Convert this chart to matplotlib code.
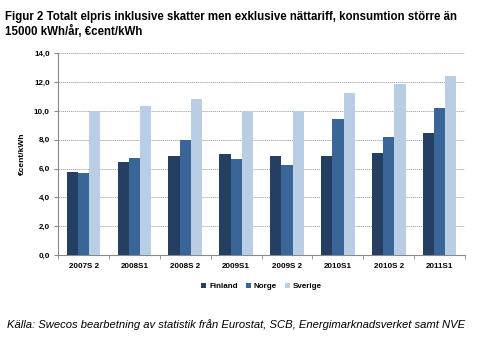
import matplotlib.pyplot as plt
import numpy as np

# data
perioder = ['2007S2', '2008S1', '2008S2', '2009S1', '2009S2', '2010S1', '2010S2', '2011S1']
finland = [5.75, 6.45, 6.85, 7.0, 6.85, 6.9, 7.1, 8.5]
norge = [5.72, 6.75, 8.0, 6.65, 6.22, 9.45, 8.2, 10.2]
sverige = [10.0, 10.37, 10.8, 10.02, 10.0, 11.25, 11.85, 12.45]

plt.rcParams['font.family'] = ['Liberation Sans', 'DejaVu Sans']

fig = plt.figure(figsize=(4.8, 3.37), dpi=100)
ax = fig.add_axes([0.121, 0.243, 0.848, 0.599])

x = np.arange(len(perioder))
w = 0.22
ax.bar(x - w, finland, w, color='#243F62', label='Finland', zorder=3)
ax.bar(x, norge, w, color='#3A6598', label='Norge', zorder=3)
ax.bar(x + w, sverige, w, color='#B9CDE5', label='Sverige', zorder=3)

ax.set_xlim(-0.5, len(perioder) - 0.5)
ax.set_ylim(0, 14)
ax.set_yticks(np.arange(0, 14.1, 2))
ax.set_yticklabels([f'{v:.1f}'.replace('.', ',') for v in np.arange(0, 14.1, 2)])
ax.set_xticks(x)
ax.set_xticklabels([p[:5] + ' ' + p[5:] if p.endswith('2') else p for p in perioder])
ax.set_xticks(np.arange(-0.5, len(perioder)), minor=True)
ax.tick_params(axis='x', which='major', length=0, pad=6, labelsize=5.8)
ax.tick_params(axis='x', which='minor', length=3, color='#888888')
ax.tick_params(axis='y', length=3, color='#888888', labelsize=5.8, pad=3)
for lab in ax.get_xticklabels() + ax.get_yticklabels():
    lab.set_fontweight('bold')

ax.grid(axis='y', linestyle=(0, (1.5, 1)), color='#999999', linewidth=0.6, zorder=0)
for s in ['top', 'right']:
    ax.spines[s].set_visible(False)
ax.spines['left'].set_color('#888888')
ax.spines['bottom'].set_color('#888888')
ax.spines['left'].set_linewidth(0.8)
ax.spines['bottom'].set_linewidth(0.8)

ax.set_ylabel('€cent/kWh', fontsize=6, fontweight='bold', labelpad=6)

ax.legend(loc='upper center', bbox_to_anchor=(0.5, -0.1), ncol=3, frameon=False,
          handlelength=0.6, handleheight=0.6, handletextpad=0.4,
          columnspacing=1.0, prop={'weight': 'bold', 'size': 5.8})

fig.text(0.01, 0.968, 'Figur 2 Totalt elpris inklusive skatter men exklusive nättariff, konsumtion större än\n15000 kWh/år, €cent/kWh',
         fontsize=8.3, fontweight='bold', va='top', ha='left', linespacing=1.25)
fig.text(0.015, 0.02, 'Källa: Swecos bearbetning av statistik från Eurostat, SCB, Energimarknadsverket samt NVE',
         fontsize=8.1, style='italic', va='bottom', ha='left')

fig.savefig('out.png', dpi=100)
